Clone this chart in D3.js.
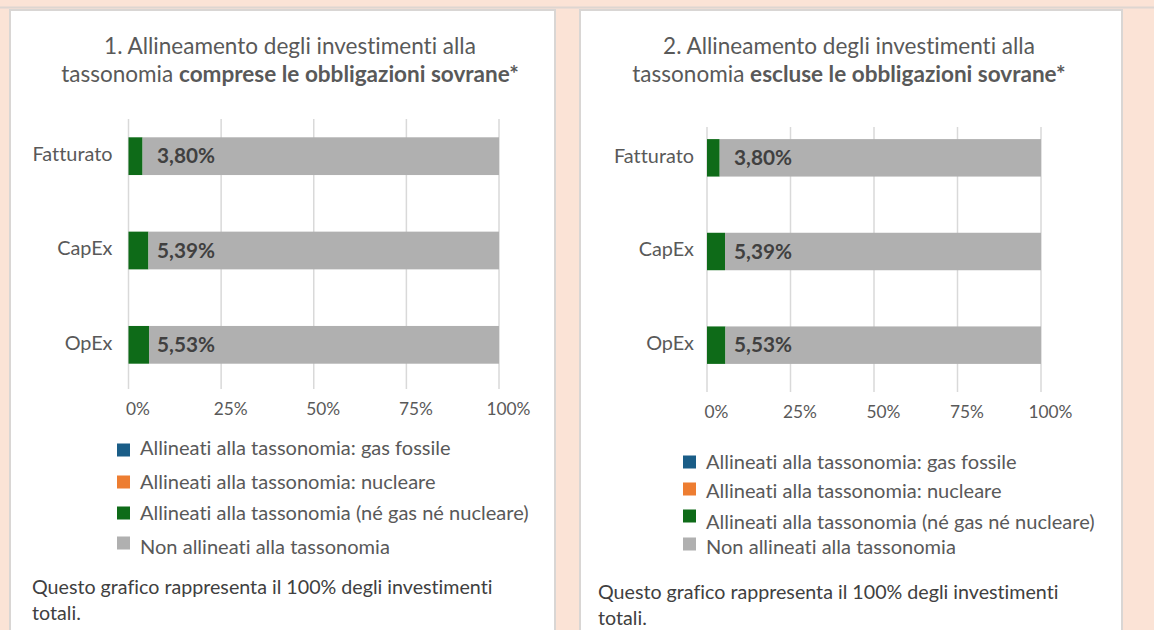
<!DOCTYPE html>
<html>
<head>
<meta charset="utf-8">
<script src="https://cdn.jsdelivr.net/npm/d3@7"></script>
<style>
  body { margin: 0; background: #fbe3d6; }
  svg { display: block; font-family: Lato, 'Open Sans', sans-serif; }
  text { font-variant-ligatures: none; }
</style>
</head>
<body>
<svg id="chart" width="1154" height="630"></svg>
<script>
// Data.
const categories = ['Fatturato', 'CapEx', 'OpEx'];
const seriesNames = [
  'Allineati alla tassonomia: gas fossile',
  'Allineati alla tassonomia: nucleare',
  'Allineati alla tassonomia (né gas né nucleare)',
  'Non allineati alla tassonomia'
];
const seriesColors = ['#1a5d87', '#ed7d31', '#0e6b18', '#b0b0b0'];

// panel 1: including sovereign bonds
const gasIncl = [0, 0, 0];
const nucIncl = [0, 0, 0];
const alignedIncl = [3.80, 5.39, 5.53];
const notAlignedIncl = [96.20, 94.61, 94.47];

// panel 2: excluding sovereign bonds
const gasExcl = [0, 0, 0];
const nucExcl = [0, 0, 0];
const alignedExcl = [3.80, 5.39, 5.53];
const notAlignedExcl = [96.20, 94.61, 94.47];

const tickValues = [0, 25, 50, 75, 100];
const footnote = ['Questo grafico rappresenta il 100% degli investimenti', 'totali.'];

const keys = ['gas', 'nuc', 'aligned', 'non'];

const panels = [
  {
    titleA: '1. Allineamento degli investimenti alla',
    titleB: 'tassonomia ', titleBold: 'comprese le obbligazioni sovrane*',
    rows: categories.map((c, i) => ({ cat: c, gas: gasIncl[i], nuc: nucIncl[i], aligned: alignedIncl[i], non: notAlignedIncl[i] })),
    box: [10, 555], titleX: 290,
    xRange: [128.5, 499], yRange: [109, 392], grid: [119, 389],
    legX: 117, legY: [450, 482, 513, 543], legTextY: [448, 482, 513, 547],
    footX: 32, footY: [587, 613], labelNudge: 28.5, catGap: 16
  },
  {
    titleA: '2. Allineamento degli investimenti alla',
    titleB: 'tassonomia ', titleBold: 'escluse le obbligazioni sovrane*',
    rows: categories.map((c, i) => ({ cat: c, gas: gasExcl[i], nuc: nucExcl[i], aligned: alignedExcl[i], non: notAlignedExcl[i] })),
    box: [580, 1122], titleX: 849,
    xRange: [707, 1041], yRange: [111, 392], grid: [127, 392],
    legX: 683, legY: [462, 489, 516, 544], legTextY: [462, 491, 522, 547],
    footX: 598, footY: [592, 618], labelNudge: 27, catGap: 13
  }
];

const svg = d3.select('#chart');
const textColor = '#595959';

// thin line across the top
svg.append('line')
    .attr('x1', 0).attr('x2', 1154)
    .attr('y1', 7.5).attr('y2', 7.5)
    .attr('stroke', '#ded6d1').attr('stroke-width', 2);

const stack = d3.stack().keys(keys);

panels.forEach(p => {
  const g = svg.append('g');

  // white card
  g.append('rect')
      .attr('x', p.box[0]).attr('y', 10)
      .attr('width', p.box[1] - p.box[0]).attr('height', 640)
      .attr('fill', '#ffffff')
      .attr('stroke', '#d9d6d4').attr('stroke-width', 2);

  // title, two lines
  g.append('text')
      .attr('class', 'title')
      .attr('x', p.titleX).attr('y', 46)
      .attr('dy', '0.35em')
      .attr('text-anchor', 'middle')
      .attr('fill', textColor)
      .attr('font-size', 20)
      .text(p.titleA);
  const l2 = g.append('text')
      .attr('class', 'title')
      .attr('x', p.titleX).attr('y', 74)
      .attr('dy', '0.35em')
      .attr('text-anchor', 'middle')
      .attr('fill', textColor)
      .attr('font-size', 20);
  l2.append('tspan').text(p.titleB);
  l2.append('tspan').attr('font-weight', 'bold').text(p.titleBold);

  const x = d3.scaleLinear().domain([0, 100]).range(p.xRange);
  const y = d3.scaleBand().domain(categories).range(p.yRange)
      .paddingInner(0.6).paddingOuter(0.3);

  // gridlines
  g.append('g')
    .selectAll('line')
    .data(tickValues)
    .join('line')
      .attr('x1', d => x(d)).attr('x2', d => x(d))
      .attr('y1', p.grid[0]).attr('y2', p.grid[1])
      .attr('stroke', '#d9d9d9').attr('stroke-width', 1.5);

  // x axis labels
  const xAxis = g.append('g')
      .attr('transform', `translate(0,${p.grid[1] + 2})`)
      .call(d3.axisBottom(x).tickValues(tickValues).tickSize(0).tickPadding(0)
            .tickFormat(d => d + '%'));
  xAxis.select('.domain').remove();
  xAxis.selectAll('text')
      .attr('class', 'xtick')
      .attr('fill', textColor)
      .attr('font-family', 'Lato, sans-serif')
      .attr('font-size', 17)
      .attr('dx', 9)
      .attr('dy', 0)
      .attr('y', 24);

  // stacked bars
  const series = stack(p.rows);
  g.append('g')
    .selectAll('g')
    .data(series)
    .join('g')
      .attr('fill', (_, i) => seriesColors[i])
    .selectAll('rect')
    .data(d => d)
    .join('rect')
      .attr('x', d => x(d[0]))
      .attr('width', d => x(d[1]) - x(d[0]))
      .attr('y', d => y(d.data.cat))
      .attr('height', y.bandwidth());

  // category labels
  g.append('g')
    .selectAll('text')
    .data(categories)
    .join('text')
      .attr('class', 'cat')
      .attr('x', x(0) - p.catGap)
      .attr('y', d => y(d) + y.bandwidth() / 2 - 2)
      .attr('dy', '0.35em')
      .attr('text-anchor', 'end')
      .attr('fill', textColor)
      .attr('font-size', 17)
      .text(d => d);

  // data labels for aligned share
  g.append('g')
    .selectAll('text')
    .data(p.rows)
    .join('text')
      .attr('class', 'val')
      .attr('x', x(0) + p.labelNudge)
      .attr('y', d => y(d.cat) + y.bandwidth() / 2)
      .attr('dy', '0.35em')
      .attr('fill', '#404040')
      .attr('font-weight', 'bold')
      .attr('font-size', 19)
      .text(d => d3.format('.2f')(d.aligned).replace('.', ',') + '%');

  // legend
  const leg = g.append('g');
  leg.selectAll('rect')
    .data(seriesNames)
    .join('rect')
      .attr('x', p.legX)
      .attr('y', (_, i) => p.legY[i] - 6.5)
      .attr('width', 13).attr('height', 13)
      .attr('fill', (_, i) => seriesColors[i]);
  leg.selectAll('text')
    .data(seriesNames)
    .join('text')
      .attr('class', 'leg')
      .attr('x', p.legX + 23)
      .attr('y', (_, i) => p.legTextY[i])
      .attr('dy', '0.35em')
      .attr('fill', textColor)
      .attr('font-size', 17)
      .text(d => d);

  // footnote
  g.append('g')
    .selectAll('text')
    .data(footnote)
    .join('text')
      .attr('class', 'foot')
      .attr('x', p.footX)
      .attr('y', (_, i) => p.footY[i])
      .attr('dy', '0.35em')
      .attr('fill', '#404040')
      .attr('font-size', 17)
      .text(d => d);
});

// Lato runs a bit wider than the original font: size each group so a reference string matches its width.
function fitGroup(cls, refText, target) {
  const all = svg.selectAll('.' + cls);
  const ref = all.filter(function() { return this.textContent === refText; }).node();
  if (!ref) return;
  const fs = parseFloat(ref.getAttribute('font-size'));
  const size = fs * target / ref.getComputedTextLength();
  all.attr('font-size', size);
}
fitGroup('title', panels[0].titleA, 372);
fitGroup('leg', seriesNames[2], 389);
fitGroup('foot', footnote[0], 461);
fitGroup('cat', 'Fatturato', 80);
fitGroup('xtick', '100%', 44);
fitGroup('val', '3,80%', 58);
</script>
</body>
</html>
